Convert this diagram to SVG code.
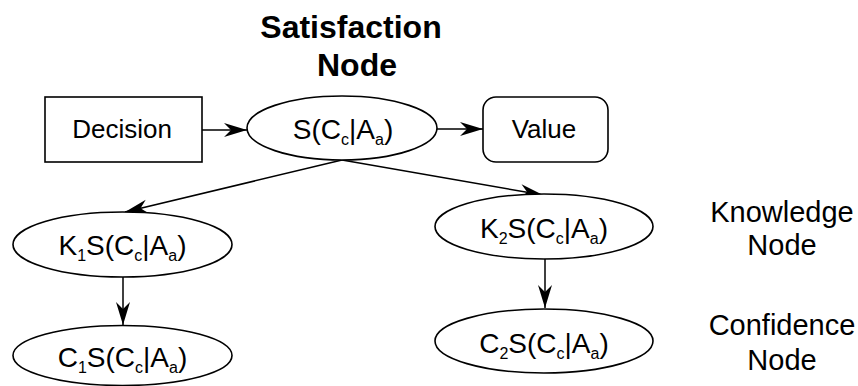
<svg xmlns="http://www.w3.org/2000/svg" width="858" height="386" viewBox="0 0 858 386">
  <style>
    .shape { fill: #ffffff; stroke: #000000; stroke-width: 1.6; }
    .edge { fill: none; stroke: #000000; stroke-width: 1.5; }
    .lbl { font-family: "Liberation Sans", Arial, sans-serif; font-size: 28px; fill: #000000; text-anchor: middle; }
    .box { font-size: 26px; }
    .side { font-size: 29px; }
    .title { font-family: "Liberation Sans", Arial, sans-serif; font-size: 32px; font-weight: bold; fill: #000000; text-anchor: middle; }
    .sub { font-size: 16px; }
  </style>
  <defs>
    <marker id="arrow" markerUnits="userSpaceOnUse" markerWidth="24" markerHeight="14" refX="23" refY="7" orient="auto" overflow="visible">
      <path d="M23,7 L0,0 L7,7 L0,14 Z" fill="#000000"/>
    </marker>
  </defs>

  <!-- heading -->
  <g id="heading">
    <text class="title" x="351" y="38">Satisfaction</text>
    <text class="title" x="357" y="76">Node</text>
  </g>

  <!-- connectors -->
  <g id="connectors">
    <line class="edge" x1="202" y1="130" x2="247" y2="130" marker-end="url(#arrow)"/>
    <line class="edge" x1="437" y1="129" x2="483" y2="129" marker-end="url(#arrow)"/>
    <line class="edge" x1="342" y1="160" x2="125" y2="212" marker-end="url(#arrow)"/>
    <line class="edge" x1="342" y1="160" x2="543" y2="195" marker-end="url(#arrow)"/>
    <line class="edge" x1="123" y1="277" x2="123" y2="325" marker-end="url(#arrow)"/>
    <line class="edge" x1="545" y1="259" x2="545" y2="308" marker-end="url(#arrow)"/>
  </g>

  <!-- decision node -->
  <g id="decision">
    <rect class="shape" x="45" y="97" width="157" height="65"/>
    <text class="lbl box" x="122" y="138">Decision</text>
  </g>

  <!-- satisfaction node -->
  <g id="satisfaction">
    <ellipse class="shape" cx="342" cy="128" rx="95" ry="32"/>
    <text class="lbl" x="343" y="139">S(C<tspan class="sub" dy="6">c</tspan><tspan dy="-6">|A</tspan><tspan class="sub" dy="6">a</tspan><tspan dy="-6">)</tspan></text>
  </g>

  <!-- value node -->
  <g id="value">
    <rect class="shape" x="483" y="97" width="125" height="65" rx="13" ry="13"/>
    <text class="lbl box" x="544" y="138">Value</text>
  </g>

  <!-- knowledge nodes -->
  <g id="knowledge1">
    <ellipse class="shape" cx="122.5" cy="244.5" rx="109.5" ry="32.5"/>
    <text class="lbl" x="122.5" y="255">K<tspan class="sub" dy="6">1</tspan><tspan dy="-6">S(C</tspan><tspan class="sub" dy="6">c</tspan><tspan dy="-6">|A</tspan><tspan class="sub" dy="6">a</tspan><tspan dy="-6">)</tspan></text>
  </g>
  <g id="knowledge2">
    <ellipse class="shape" cx="544" cy="226.5" rx="109" ry="32.5"/>
    <text class="lbl" x="544" y="238">K<tspan class="sub" dy="6">2</tspan><tspan dy="-6">S(C</tspan><tspan class="sub" dy="6">c</tspan><tspan dy="-6">|A</tspan><tspan class="sub" dy="6">a</tspan><tspan dy="-6">)</tspan></text>
  </g>

  <!-- confidence nodes -->
  <g id="confidence1">
    <ellipse class="shape" cx="122.5" cy="355.5" rx="109.5" ry="30"/>
    <text class="lbl" x="122.5" y="367">C<tspan class="sub" dy="6">1</tspan><tspan dy="-6">S(C</tspan><tspan class="sub" dy="6">c</tspan><tspan dy="-6">|A</tspan><tspan class="sub" dy="6">a</tspan><tspan dy="-6">)</tspan></text>
  </g>
  <g id="confidence2">
    <ellipse class="shape" cx="544" cy="341" rx="109" ry="32"/>
    <text class="lbl" x="544" y="353">C<tspan class="sub" dy="6">2</tspan><tspan dy="-6">S(C</tspan><tspan class="sub" dy="6">c</tspan><tspan dy="-6">|A</tspan><tspan class="sub" dy="6">a</tspan><tspan dy="-6">)</tspan></text>
  </g>

  <!-- row captions -->
  <g id="caption-knowledge">
    <text class="lbl side" x="782" y="222">Knowledge</text>
    <text class="lbl side" x="782" y="255">Node</text>
  </g>
  <g id="caption-confidence">
    <text class="lbl side" x="782" y="335">Confidence</text>
    <text class="lbl side" x="782" y="370">Node</text>
  </g>
</svg>
